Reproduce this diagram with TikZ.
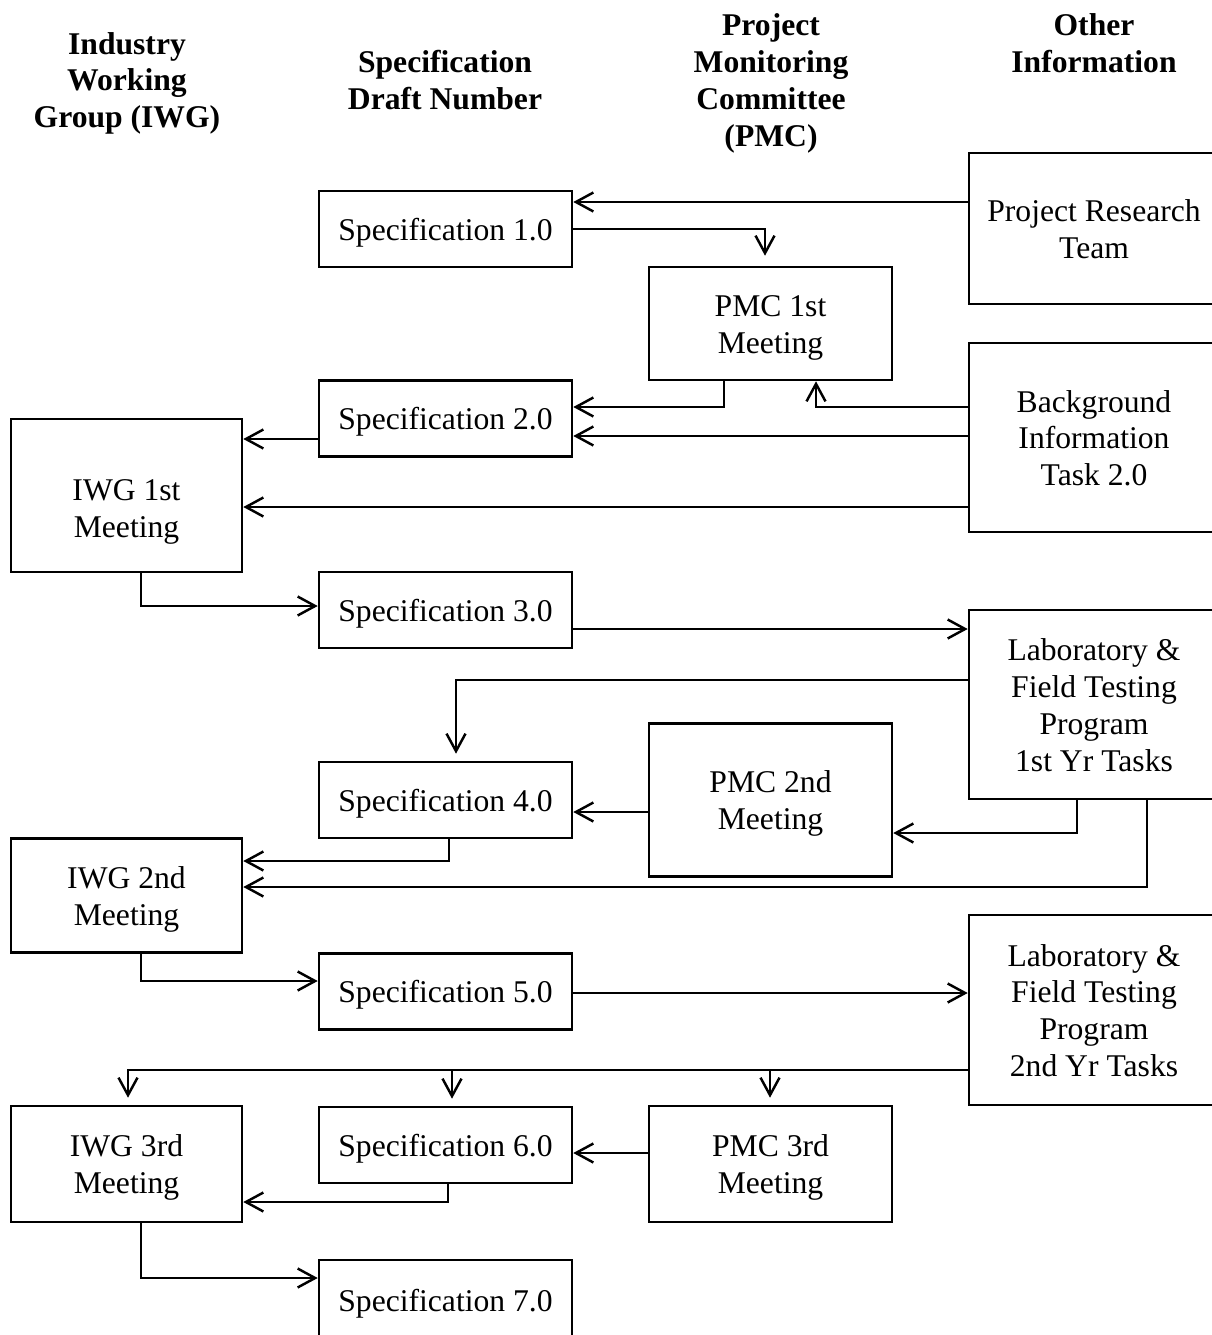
\documentclass[tikz,border=0pt]{standalone}
\usepackage{fontspec}
\setmainfont{Liberation Serif}
\usetikzlibrary{arrows.meta}

\tikzset{
	lines/.style={text height=17pt+#1*21pt-21pt, text depth=4pt},	%same line box for every node
	lines/.default=1,
	box/.style={draw, line width=1.5pt, align=center, inner sep=0pt, lines, font=\fontsize{18}{21}\selectfont},
	spec/.style={box, minimum width=5.06cm, minimum height=1.52cm},
	pmc/.style={box, minimum width=4.86cm, lines=2},
	iwg/.style={box, minimum width=4.62cm, lines=2},
	info/.style={box, minimum width=5cm},
	head/.style={align=center, inner sep=0pt, font=\fontsize{18}{21}\selectfont\bfseries},
	arr/.style={line width=1.4pt, -{Straight Barb[length=0.35cm,width=0.38cm]}},
}

\begin{document}
\begin{tikzpicture}[x=0.02cm, y=-0.02cm]
	\useasboundingbox (0,0) rectangle (1212,1335);

	%column headings
	\node[head, lines=3] (hiwg) at (127,79.5) {Industry\\Working\\Group (IWG)};
	\node[head, lines=2] (hspec) at (445,79.5) {Specification\\Draft Number};
	\node[head, lines=4] (hpmc) at (771,79.5) {Project\\Monitoring\\Committee\\(PMC)};
	\node[head, lines=2] (hinfo) at (1094,42.5) {Other\\Information};

	%specification drafts
	\foreach \n/\y in {1/229, 2/418.5, 3/610, 4/800, 5/991.5, 6/1145}{
		\node[spec] (spec\n) at (445.5,\y) {Specification \n.0};}
	\node[spec, minimum height=1.6cm] (spec7) at (445.5,1300) {Specification 7.0};		%runs off the bottom

	%meetings
	\node[pmc, minimum height=2.26cm] (pmc1) at (770.5,323.5) {PMC 1st\\Meeting};
	\node[pmc, minimum height=3.06cm] (pmc2) at (770.5,800) {PMC 2nd\\Meeting};
	\node[pmc, minimum height=2.32cm] (pmc3) at (770.5,1164) {PMC 3rd\\Meeting};
	\node[iwg, minimum height=3.06cm, text height=51.6pt] (iwg1) at (126.5,495.5) {IWG 1st\\Meeting};	%text sits low
	\node[iwg, minimum height=2.28cm] (iwg2) at (126.5,895.5) {IWG 2nd\\Meeting};
	\node[iwg, minimum height=2.32cm] (iwg3) at (126.5,1164) {IWG 3rd\\Meeting};

	%other information (right edge is cut off)
	\node[info, lines=2, minimum height=3.02cm] (team) at (1094,228.5) {Project Research\\Team};
	\node[info, lines=3, minimum height=3.78cm] (bg) at (1094,437.5) {Background\\Information\\Task 2.0};
	\node[info, lines=4, minimum height=3.78cm] (lab1) at (1094,704.5) {Laboratory \&\\Field Testing\\Program\\1st Yr Tasks};
	\node[info, lines=4, minimum height=3.8cm] (lab2) at (1094,1010) {Laboratory \&\\Field Testing\\Program\\2nd Yr Tasks};

	%arrows, top part
	\draw[arr] (team.west |- 0,202) -- (spec1.east |- 0,202);
	\draw[arr, shorten >=0.2cm] (spec1.east) -| (pmc1.north -| 765,0);
	\draw[arr] (pmc1.south -| 724,0) |- (spec2.east |- 0,407);
	\draw[arr] (bg.west |- 0,407) -| (pmc1.south -| 816,0);
	\draw[arr] (bg.west |- 0,436) -- (spec2.east |- 0,436);
	\draw[arr] (spec2.west |- 0,439) -- (iwg1.east |- 0,439);
	\draw[arr] (bg.west |- 0,507) -- (iwg1.east |- 0,507);
	\draw[arr] (iwg1.south -| 141,0) |- (spec3.west |- 0,606);
	\draw[arr] (spec3.east |- 0,629) -- (lab1.west |- 0,629);

	%arrows, middle part
	\draw[arr, shorten >=0.14cm] (lab1.west |- 0,680) -| (spec4.north -| 456,0);
	\draw[arr] (pmc2.west |- 0,812) -- (spec4.east |- 0,812);
	\draw[arr] (spec4.south -| 449,0) |- (iwg2.east |- 0,861);
	\draw[arr] (lab1.south -| 1077,0) |- (pmc2.east |- 0,833);
	\draw[arr] (lab1.south -| 1147,0) |- (iwg2.east |- 0,887);
	\draw[arr] (iwg2.south -| 141,0) |- (spec5.west |- 0,981);
	\draw[arr] (spec5.east |- 0,993) -- (lab2.west |- 0,993);

	%arrows, bottom part
	\foreach \t/\x in {iwg3/128, spec6/452, pmc3/770}{
		\draw[arr, shorten >=0.14cm] (lab2.west |- 0,1070) -| (\t.north -| \x,0);}
	\draw[arr] (pmc3.west |- 0,1153) -- (spec6.east |- 0,1153);
	\draw[arr] (spec6.south -| 448,0) |- (iwg3.east |- 0,1202);
	\draw[arr] (iwg3.south -| 141,0) |- (spec7.west |- 0,1278);
\end{tikzpicture}
\end{document}
